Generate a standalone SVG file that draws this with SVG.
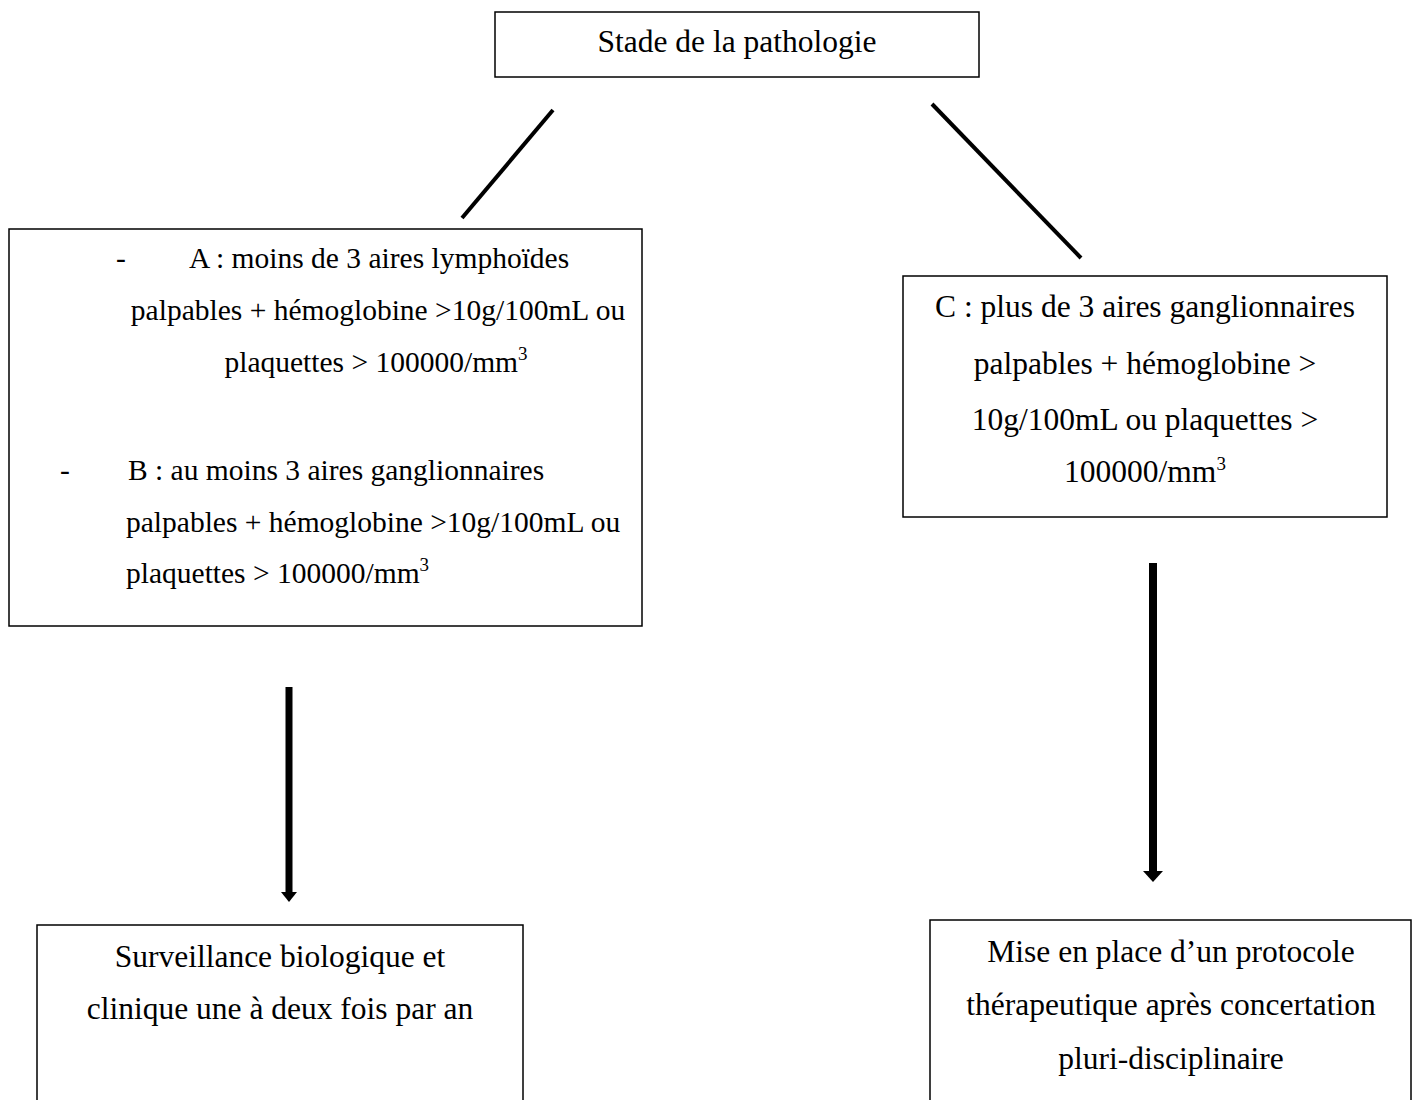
<svg xmlns="http://www.w3.org/2000/svg" width="1421" height="1100" viewBox="0 0 1421 1100">
<style>
.box{fill:#fff;stroke:#000;stroke-width:1.5}
.t{font-family:"Liberation Serif","Times New Roman",serif;font-size:31.5px;fill:#000}
.ts{font-family:"Liberation Serif","Times New Roman",serif;font-size:29.5px;fill:#000}
.c{text-anchor:middle}
.sup{font-size:19px}
.ln{stroke:#000;stroke-width:4;stroke-linecap:butt}
</style>
<defs>
<marker id="ah1" markerUnits="userSpaceOnUse" markerWidth="10" markerHeight="16" viewBox="0 0 10 16" refX="0" refY="8" orient="auto"><path d="M0,0 L10,8 L0,16 z" fill="#000"/></marker>
<marker id="ah2" markerUnits="userSpaceOnUse" markerWidth="11" markerHeight="20" viewBox="0 0 11 20" refX="0" refY="10" orient="auto"><path d="M0,0 L11,10 L0,20 z" fill="#000"/></marker>
</defs>
<rect width="1421" height="1100" fill="#fff"/>
<g id="connectors">
<line class="ln" x1="553" y1="110" x2="462" y2="218"/>
<line class="ln" x1="932" y1="104" x2="1081" y2="258"/>
<line x1="289" y1="687" x2="289" y2="892" stroke="#000" stroke-width="7" marker-end="url(#ah1)"/>
<line x1="1153" y1="563" x2="1153" y2="871" stroke="#000" stroke-width="8" marker-end="url(#ah2)"/>
</g>
<g id="stade">
<rect class="box" x="495" y="12" width="484" height="65"/>
<text class="t c" x="737" y="52">Stade de la pathologie</text>
</g>
<g id="stadeAB">
<rect class="box" x="9" y="229" width="633" height="397"/>
<text class="ts" x="116" y="268">-</text>
<text class="ts" x="189" y="268">A : moins de 3 aires lymphoïdes</text>
<text class="ts c" x="378" y="320">palpables + hémoglobine &gt;10g/100mL ou</text>
<text class="ts c" x="376" y="372">plaquettes &gt; 100000/mm<tspan class="sup" dy="-12">3</tspan></text>
<text class="ts" x="60" y="480">-</text>
<text class="ts" x="128" y="480">B : au moins 3 aires ganglionnaires</text>
<text class="ts" x="126" y="532">palpables + hémoglobine &gt;10g/100mL ou</text>
<text class="ts" x="126" y="583">plaquettes &gt; 100000/mm<tspan class="sup" dy="-12">3</tspan></text>
</g>
<g id="stadeC">
<rect class="box" x="903" y="276" width="484" height="241"/>
<text class="t c" x="1145" y="317">C : plus de 3 aires ganglionnaires</text>
<text class="t c" x="1145" y="374">palpables + hémoglobine &gt;</text>
<text class="t c" x="1145" y="430">10g/100mL ou plaquettes &gt;</text>
<text class="t c" x="1145" y="482">100000/mm<tspan class="sup" dy="-12">3</tspan></text>
</g>
<g id="surveillance">
<rect class="box" x="37" y="925" width="486" height="200"/>
<text class="t c" x="280" y="967">Surveillance biologique et</text>
<text class="t c" x="280" y="1019">clinique une à deux fois par an</text>
</g>
<g id="protocole">
<rect class="box" x="930" y="920" width="481" height="200"/>
<text class="t c" x="1171" y="962">Mise en place d’un protocole</text>
<text class="t c" x="1171" y="1015">thérapeutique après concertation</text>
<text class="t c" x="1171" y="1069">pluri-disciplinaire</text>
</g>
</svg>
